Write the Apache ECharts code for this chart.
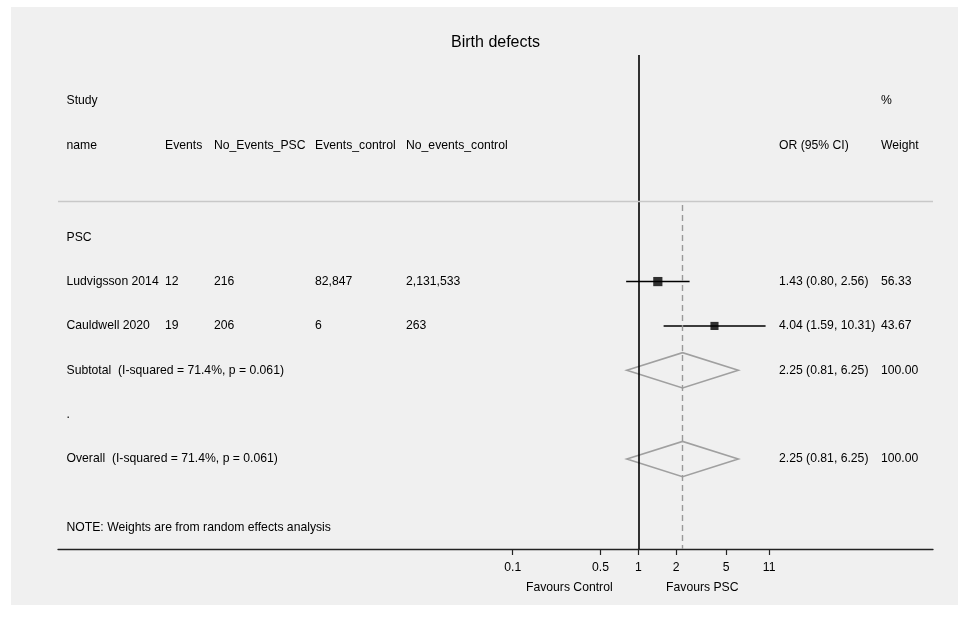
<!DOCTYPE html>
<html>
<head>
<meta charset="utf-8">
<script src="https://cdn.jsdelivr.net/npm/echarts@6/dist/echarts.min.js"></script>
<style>
  html, body { margin: 0; padding: 0; background: #ffffff; }
  #chart { width: 969px; height: 617px; }
</style>
</head>
<body>
<div id="chart"></div>
<script>
// study rows
const studies = ['Ludvigsson 2014', 'Cauldwell 2020'];
const events = ['12', '19'];
const noEventsPsc = ['216', '206'];
const eventsControl = ['82,847', '6'];
const noEventsControl = ['2,131,533', '263'];
const orEst = [1.43, 4.04];
const ciLow = [0.80, 1.59];
const ciHigh = [2.56, 10.31];
const weights = [56.33, 43.67];

// pooled rows (subtotal, overall)
const pooledLabels = ['Subtotal  (I-squared = 71.4%, p = 0.061)', 'Overall  (I-squared = 71.4%, p = 0.061)'];
const pooledOr = [2.25, 2.25];
const pooledLow = [0.81, 0.81];
const pooledHigh = [6.25, 6.25];
const pooledWeight = [100, 100];

// axis ticks
const tickValues = [0.1, 0.5, 1, 2, 5, 11];
const tickLabels = ['0.1', '0.5', '1', '2', '5', '11'];

// layout: x axis is ln(OR), y axis is row number
const X_MIN = -10.638, X_MAX = 5.402;
const Y_MIN = -4.106, Y_MAX = 7.027;
const FONT = '12.2px "Liberation Sans", Arial, sans-serif';
const COL = { name: 66.5, ev: 165, noev: 214, evc: 315, noevc: 406, or: 779, w: 881 };

const studyRows = [1, 2];
const pooledRows = [3, 5];

const fmt = v => v.toFixed(2);
const orText = (o, l, h) => `${fmt(o)} (${fmt(l)}, ${fmt(h)})`;

// 表格文字
const tableCells = [];
const cell = (x, row, text, align) => tableCells.push({ x, row, text, align: align || 'left' });
cell(COL.name, -3.07, 'Study');
cell(COL.w, -3.07, '%');
cell(COL.name, -2.06, 'name');
cell(COL.ev, -2.06, 'Events');
cell(COL.noev, -2.06, 'No_Events_PSC');
cell(COL.evc, -2.06, 'Events_control');
cell(COL.noevc, -2.06, 'No_events_control');
cell(COL.or, -2.06, 'OR (95% CI)');
cell(COL.w, -2.06, 'Weight');
cell(COL.name, 0, 'PSC');
studies.forEach((s, i) => {
    const r = studyRows[i];
    cell(COL.name, r, s);
    cell(COL.ev, r, events[i]);
    cell(COL.noev, r, noEventsPsc[i]);
    cell(COL.evc, r, eventsControl[i]);
    cell(COL.noevc, r, noEventsControl[i]);
    cell(COL.or, r, orText(orEst[i], ciLow[i], ciHigh[i]));
    cell(COL.w, r, fmt(weights[i]));
});
cell(COL.name, 4, '.');
pooledLabels.forEach((s, i) => {
    const r = pooledRows[i];
    cell(COL.name, r, s);
    cell(COL.or, r, orText(pooledOr[i], pooledLow[i], pooledHigh[i]));
    cell(COL.w, r, fmt(pooledWeight[i]));
});
cell(COL.name, 6.55, 'NOTE: Weights are from random effects analysis');
cell(569.3, 7.9, 'Favours Control', 'center');
cell(702.3, 7.9, 'Favours PSC', 'center');

const chart = echarts.init(document.getElementById('chart'));

const option = {
    animation: false,
    backgroundColor: '#ffffff',
    graphic: [
        { type: 'rect', z: -10, shape: { x: 11, y: 7, width: 947, height: 598 }, style: { fill: '#f0f0f0' } },
        {
            type: 'text', x: 495.5, y: 43,
            style: { text: 'Birth defects', fill: '#000', font: '16px "Liberation Sans", Arial, sans-serif', align: 'center', verticalAlign: 'middle' }
        }
    ],
    grid: { left: 58, right: 36, top: 55, bottom: 68 },
    xAxis: {
        type: 'value',
        min: X_MIN,
        max: X_MAX,
        splitLine: { show: false },
        axisLine: { show: true, onZero: false, lineStyle: { color: '#222', width: 1.3 } },
        axisTick: {
            show: true, length: 6,
            customValues: tickValues.map(v => Math.log(v)),
            lineStyle: { color: '#222', width: 1.2 }
        },
        axisLabel: {
            margin: 13,
            color: '#000',
            fontSize: 12.2,
            fontFamily: '"Liberation Sans", Arial, sans-serif',
            customValues: tickValues.map(v => Math.log(v)),
            formatter: v => {
                let best = 0;
                tickValues.forEach((t, i) => {
                    if (Math.abs(Math.log(t) - v) < Math.abs(Math.log(tickValues[best]) - v)) best = i;
                });
                return tickLabels[best];
            }
        }
    },
    yAxis: {
        type: 'value',
        inverse: true,
        min: Y_MIN,
        max: Y_MAX,
        show: false
    },
    series: [
        {
            // 参考线
            type: 'line',
            data: [],
            silent: true,
            markLine: {
                symbol: 'none',
                silent: true,
                label: { show: false },
                animation: false,
                data: [
                    { xAxis: 0, lineStyle: { color: '#000', width: 1.6, type: 'solid' } },
                    [
                        { coord: [Math.log(pooledOr[1]), -0.727], lineStyle: { color: '#999999', width: 1.4, type: [6, 4] } },
                        { coord: [Math.log(pooledOr[1]), Y_MAX] }
                    ],
                    [
                        { coord: [X_MIN, -0.8], lineStyle: { color: '#c8c8c8', width: 1.3, type: 'solid' } },
                        { coord: [X_MAX, -0.8] }
                    ]
                ]
            }
        },
        {
            // 置信区间
            type: 'custom',
            data: studies.map((s, i) => [Math.log(ciLow[i]), Math.log(ciHigh[i]), studyRows[i]]),
            renderItem: (params, api) => {
                const a = api.coord([api.value(0), api.value(2)]);
                const b = api.coord([api.value(1), api.value(2)]);
                return {
                    type: 'line',
                    shape: { x1: a[0], y1: a[1], x2: b[0], y2: b[1] },
                    style: { stroke: '#000', lineWidth: 1.4 }
                };
            },
            z: 3
        },
        {
            type: 'scatter',
            data: studies.map((s, i) => [Math.log(orEst[i]), studyRows[i], weights[i]]),
            symbol: 'rect',
            symbolSize: d => 9.2 * Math.sqrt(d[2] / 56.33),
            itemStyle: { color: '#000' },
            z: 4
        },
        {
            // 菱形
            type: 'custom',
            data: pooledRows.map((r, i) => [Math.log(pooledLow[i]), Math.log(pooledOr[i]), Math.log(pooledHigh[i]), r]),
            renderItem: (params, api) => {
                const r = api.value(3);
                const l = api.coord([api.value(0), r]);
                const c = api.coord([api.value(1), r]);
                const h = api.coord([api.value(2), r]);
                const hh = 17.6;
                return {
                    type: 'polygon',
                    shape: { points: [[l[0], l[1]], [c[0], c[1] - hh], [h[0], h[1]], [c[0], c[1] + hh]] },
                    style: { fill: 'none', stroke: '#a0a0a0', lineWidth: 1.6 }
                };
            },
            z: 3
        },
        {
            // 文字
            type: 'custom',
            clip: false,
            silent: true,
            data: tableCells.map(c => [X_MIN, c.row]),
            renderItem: (params, api) => {
                const c = tableCells[params.dataIndex];
                const y = api.coord([X_MIN, api.value(1)])[1];
                return {
                    type: 'text',
                    x: c.x,
                    y: y,
                    style: { text: c.text, fill: '#000', font: FONT, align: c.align, verticalAlign: 'middle' }
                };
            },
            z: 5
        }
    ]
};

chart.setOption(option);
</script>
</body>
</html>
